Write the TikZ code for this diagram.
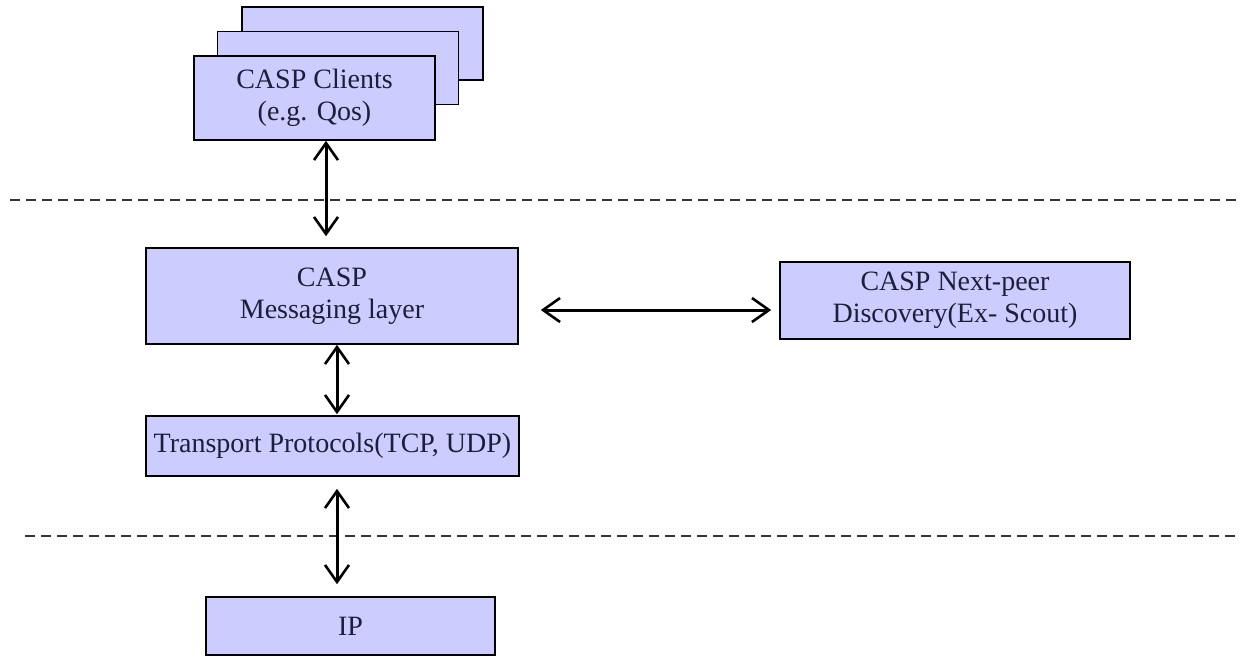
\documentclass[tikz,border=0pt]{standalone}
\usepackage{fontspec}
\setmainfont{Liberation Serif}
\usetikzlibrary{arrows.meta}
\definecolor{boxfill}{RGB}{204,204,255}
\definecolor{txt}{RGB}{30,30,60}
\begin{document}
\begin{tikzpicture}[x=1pt,y=-1pt,
  box/.style={draw=black,line width=1.6pt,fill=boxfill,inner sep=0pt,align=center,
    text=txt,font=\fontsize{28}{32}\selectfont},
  arr/.style={line width=3pt,{Straight Barb[length=17pt,width=24pt,line width=2.6pt]}-{Straight Barb[length=17pt,width=24pt,line width=2.6pt]}},
  sep/.style={draw=black!80,line width=1.4pt,dash pattern=on 10pt off 6pt}]
\useasboundingbox (0,0) rectangle (1246,657);
% stacked client boxes
\node[box,minimum width=241pt,minimum height=73pt] (c3) at (362.5,43.5) {};
\node[box,minimum width=241pt,minimum height=73pt] (c2) at (338,68) {};
\node[box,minimum width=241pt,minimum height=84pt] (cli) at (314.5,98) {CASP Clients\\(e.g. Qos)};
\node[box,minimum width=372pt,minimum height=96pt] (msg) at (332,296) {CASP\\Messaging layer};
\node[box,minimum width=373pt,minimum height=60pt] (tr) at (332.5,446) {Transport Protocols(TCP, UDP)};
\node[box,minimum width=289pt,minimum height=58pt] (ip) at (350.5,626) {IP};
\node[box,minimum width=350pt,minimum height=77pt] (np) at (955,300.5) {CASP Next-peer\\Discovery(Ex- Scout)};
% separators
\coordinate (d1a) at (10,200); \coordinate (d1b) at (1240,200);
\coordinate (d2a) at (25,536); \coordinate (d2b) at (1240,536);
\draw[sep] (d1a) -- (d1b);
\draw[sep] (d2a) -- (d2b);
% arrows
\draw[arr,shorten >=11pt] ([xshift=11.5pt]cli.south) -- ([xshift=-6pt]msg.north);
\draw[arr,shorten >=1pt] ([xshift=5pt]msg.south) -- ([xshift=4.5pt]tr.north);
\draw[arr,shorten <=12pt,shorten >=12pt] ([xshift=4.5pt]tr.south) -- ([xshift=-13.5pt]ip.north);
\draw[arr,shorten <=22pt,shorten >=8pt] ([yshift=-14pt]msg.east) -- ([yshift=-9.5pt]np.west);
\end{tikzpicture}
\end{document}
